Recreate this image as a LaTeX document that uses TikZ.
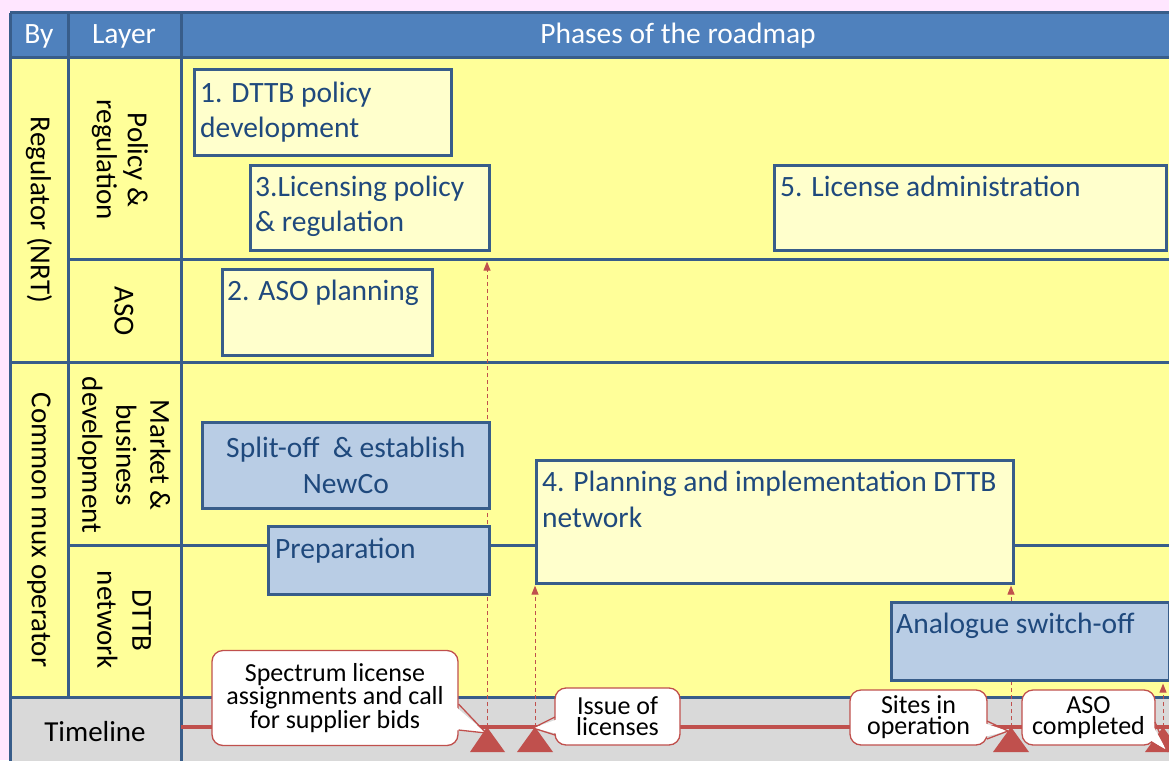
\documentclass[tikz,border=0pt]{standalone}
\usepackage{fontspec}
\setmainfont{Carlito}
\usetikzlibrary{arrows.meta,calc}
\definecolor{bgpink}{RGB}{255,230,255}
\definecolor{hdr}{RGB}{79,129,189}
\definecolor{gridc}{RGB}{56,93,138}
\definecolor{bodyc}{RGB}{255,255,153}
\definecolor{tlc}{RGB}{217,217,217}
\definecolor{lyel}{RGB}{255,255,204}
\definecolor{lblue}{RGB}{185,205,229}
\definecolor{txtc}{RGB}{31,73,125}
\definecolor{tred}{RGB}{192,80,77}
\begin{document}
\begin{tikzpicture}[x=1pt,y=-1pt,
  gridline/.style={draw=gridc,line width=3pt},
  ybox/.style={draw=gridc,line width=2.6pt,fill=lyel,anchor=north west,inner sep=0pt},
  bbox/.style={draw=gridc,line width=2.6pt,fill=lblue,anchor=north west,inner sep=0pt},
  btext/.style={text=txtc,font=\fontsize{29.5}{35}\selectfont,align=left,inner sep=0pt,anchor=north west},
  htext/.style={text=white,font=\fontsize{29.5}{33}\selectfont,inner sep=0pt},
  rlabel/.style={text=black,font=\fontsize{29}{32}\selectfont,align=center,rotate=-90,inner sep=0pt},
  darr/.style={draw=tred,line width=1pt,dash pattern=on 4pt off 3pt,-{Triangle[length=9pt,width=7pt]}},
  callbox/.style={fill=white,draw=tred,line width=1.3pt,rounded corners=11pt,align=center,inner sep=0pt,
    font=\fontsize{26}{21}\selectfont},
  tri/.style={fill=tred}
]
\useasboundingbox (0,0) rectangle (1169,760);
\fill[bgpink] (0,0) rectangle (1169,760);
\clip (0,0) rectangle (1169,760);

% table fills
\fill[hdr] (10,13) rectangle (1180,58);
\fill[bodyc] (10,58) rectangle (1180,697);
\fill[tlc] (10,697) rectangle (1180,770);

% grid lines
\draw[gridline] (10,13) -- (1180,13);
\draw[gridline] (10,58) -- (1180,58);
\draw[gridline] (68,259) -- (1180,259);
\draw[gridline] (10,362) -- (1180,362);
\draw[gridline] (68,545) -- (1180,545);
\draw[gridline] (10,697) -- (1180,697);
\draw[gridline] (10,13) -- (10,770);
\draw[gridline] (68,13) -- (68,697);
\draw[gridline] (181,13) -- (181,770);

% header texts
\node[htext] (hby) at (39,36) {By};
\node[htext] (hlayer) at (124,36) {Layer};
\node[htext] (hphase) at (678,36) {Phases of the roadmap};

% row labels
\node[rlabel] (lreg) at (39,210) {Regulator (NRT)};
\node[rlabel] (lcmo) at (39,530) {Common mux operator};
\node[rlabel,font=\fontsize{29}{31}\selectfont] (lpol) at (120,160) {Policy \&\\regulation};
\node[rlabel] (laso) at (124,311) {ASO};
\node[rlabel,font=\fontsize{29}{34}\selectfont] (lmkt) at (124,455) {Market \&\\business\\development};
\node[rlabel,font=\fontsize{29}{35}\selectfont] (ldttb) at (124,620) {DTTB\\network};
\node[text=black,font=\fontsize{29}{32}\selectfont,inner sep=0pt] (ltime) at (95,732) {Timeline};

% timeline apex coordinates
\coordinate (ap1) at (487,727);
\coordinate (ap2) at (535,727);
\coordinate (ap3) at (1011,727);
\coordinate (ap4) at (1163,727);

% boxes (shapes)
\node[ybox,minimum width=257pt,minimum height=86pt] (b1) at (193,68) {};
\node[ybox,minimum width=239pt,minimum height=85pt] (b3) at (249,164) {};
\node[ybox,minimum width=392pt,minimum height=85pt] (b5) at (773,164) {};
\node[ybox,minimum width=210pt,minimum height=86pt] (b2) at (221,268) {};
\node[ybox,minimum width=477pt,minimum height=123pt] (b4) at (535,459) {};

% dashed arrows (behind lower boxes)
\draw[darr,shorten >=10pt] (ap1) -- (ap1 |- b3.south);
\draw[darr,shorten >=1pt] (ap2) -- (ap2 |- b4.south);
\draw[darr,shorten >=1pt] (ap3) -- (ap3 |- b4.south);

\node[bbox,minimum width=287pt,minimum height=86pt] (bsplit) at (201,421) {};
\node[bbox,minimum width=221pt,minimum height=68pt] (bprep) at (267,525) {};
\node[bbox,minimum width=278pt,minimum height=78pt] (basof) at (890,601) {};

\draw[darr,shorten >=2pt] (ap4) -- (ap4 |- basof.south);

% box texts
\node[btext] (t1) at (200,82) {1. DTTB policy\\development};
\node[btext] (t3) at (255,176) {3.Licensing policy\\\& regulation};
\node[btext] (t5) at (780,176) {5. License administration};
\node[btext] (t2) at (227,280) {2. ASO planning};
\node[btext,align=center,anchor=center,font=\fontsize{29.5}{36}\selectfont] (tsplit) at (bsplit.center) {Split-off \ \& establish\\NewCo};
\node[btext] (tprep) at (275,538) {Preparation};
\node[btext,font=\fontsize{29.5}{36}\selectfont] (t4) at (542,471) {4. Planning and implementation DTTB\\network};
\node[btext] (tasof) at (896,613) {Analogue switch-off};

% timeline
\draw[draw=tred,line width=3.5pt] (181,727) -- (1180,727);
\fill[tri] (470,752) -- (ap1) -- (505,752) -- cycle;
\fill[tri] (517,752) -- (ap2) -- (553,752) -- cycle;
\fill[tri] (993,752) -- (ap3) -- (1029,752) -- cycle;
\fill[tri] (1145,752) -- (ap4) -- (1181,752) -- cycle;

% callouts
\node[callbox,minimum width=246pt,minimum height=95pt] (c1) at (335,698) {Spectrum license\\assignments and call\\for supplier bids};
\fill[white] (455,706) -- (486,733) -- (455,730) -- cycle;
\draw[tred,line width=1.3pt] (458.5,704) -- (486,733) -- (458.5,730);

\node[callbox,minimum width=125pt,minimum height=57pt] (c2) at (617.5,716.5) {Issue of\\licenses};
\fill[white] (558,719) -- (533,728) -- (558,734) -- cycle;
\draw[tred,line width=1.3pt] (555,717) -- (533,728) -- (555,735);

\node[callbox,minimum width=137pt,minimum height=55pt] (c3) at (918.5,717.5) {Sites in\\operation};
\fill[white] (984,723) -- (1008,731) -- (984,737) -- cycle;
\draw[tred,line width=1.3pt] (987,721) -- (1008,731) -- (987,739);

\node[callbox,minimum width=133pt,minimum height=55pt] (c4) at (1088.5,717.5) {ASO\\completed};
\fill[white] (1152,724) -- (1167,751) -- (1150,740) -- cycle;
\draw[tred,line width=1.3pt] (1155,722) -- (1167,751) -- (1151,742);
\end{tikzpicture}
\end{document}
